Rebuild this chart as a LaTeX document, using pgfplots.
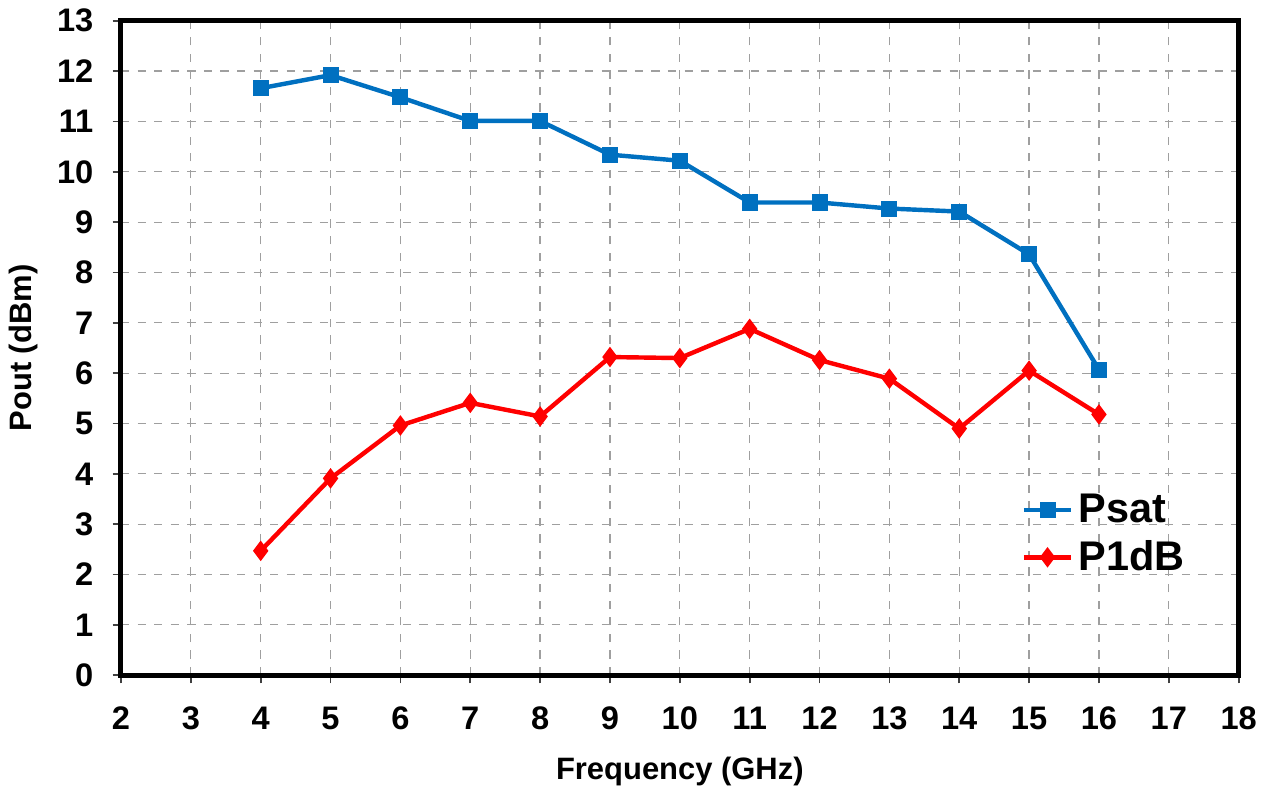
\documentclass[border=0pt]{standalone}
\usepackage{fontspec}
\setmainfont{Liberation Sans}
\usepackage{pgfplots}
\pgfplotsset{compat=1.18}
\definecolor{psatblue}{RGB}{0,112,192}
\definecolor{pred}{RGB}{255,0,0}
\begin{document}
\begin{tikzpicture}
\begin{axis}[
    scale only axis,
    width=404.6pt, height=236.9pt,
    xmin=2, xmax=18, ymin=0, ymax=13,
    xtick={2,3,...,18}, ytick={0,1,...,13},
    /pgf/number format/assume math mode=true,
    tick label style={font=\fontsize{11.8}{13}\selectfont\bfseries},
    label style={font=\fontsize{11.2}{13}\selectfont\bfseries},
    xlabel={Frequency (GHz)},
    ylabel={Pout (dBm)},
    xmajorgrids, ymajorgrids,
    grid style={dashed, gray!75, line width=0.45pt},
    axis line style={line width=1.8pt},
    tick align=outside,
    major tick length=3pt,
    tick style={black!75, line width=0.6pt},
    xtick pos=bottom, ytick pos=left,
    xticklabel style={yshift=-5pt},
    yticklabel style={xshift=-3.5pt},
    xlabel style={yshift=-3pt},
    ylabel style={yshift=0pt},
    legend style={draw=none, fill=none, at={(rel axis cs:0.798,0.295)}, anchor=north west,
        font=\fontsize{15}{17}\selectfont\bfseries, row sep=1pt},
    legend cell align=left,
]
\addplot[psatblue, line width=1.6pt, mark=square*, mark size=2.1pt] coordinates {
(4,11.66)(5,11.92)(6,11.48)(7,11.01)(8,11.01)(9,10.34)(10,10.22)(11,9.39)(12,9.39)(13,9.27)(14,9.21)(15,8.36)(16,6.07)};
\addplot[pred, line width=1.6pt, mark=diamond*, mark size=2.4pt] coordinates {
(4,2.47)(5,3.91)(6,4.96)(7,5.41)(8,5.14)(9,6.32)(10,6.30)(11,6.88)(12,6.26)(13,5.89)(14,4.90)(15,6.05)(16,5.18)};
\legend{Psat, P1dB}
\end{axis}
\end{tikzpicture}
\end{document}
